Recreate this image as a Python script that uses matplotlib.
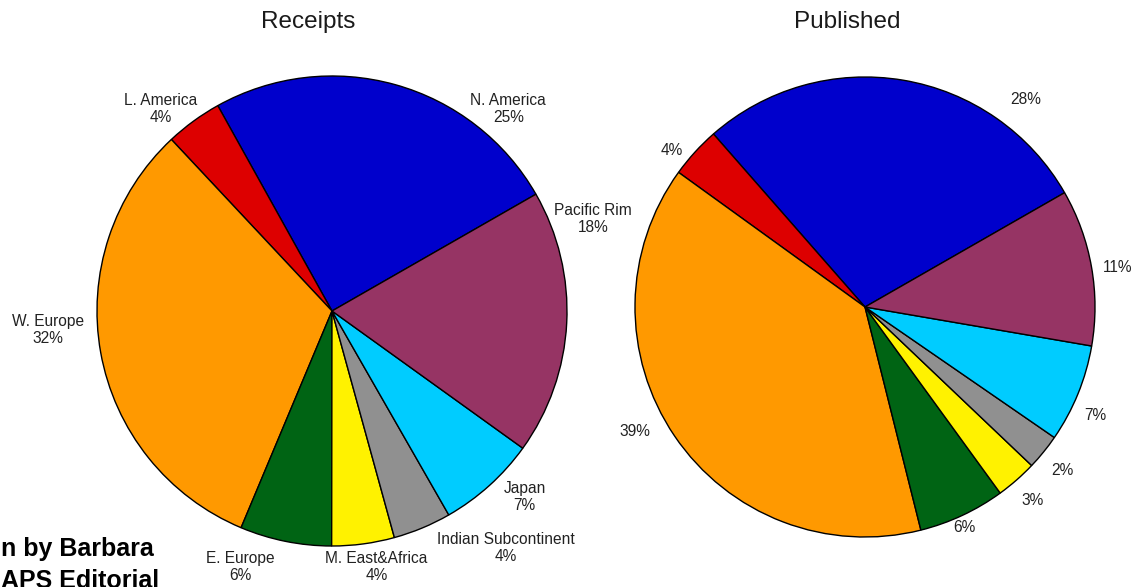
import matplotlib.pyplot as plt

plt.rcParams["font.family"] = ["Liberation Sans", "DejaVu Sans"]

regions = ["N. America", "L. America", "W. Europe", "E. Europe",
           "M. East&Africa", "Indian Subcontinent", "Japan", "Pacific Rim"]
receipts = [24.8, 3.9, 31.7, 6.3, 4.3, 4.0, 6.8, 18.2]
published = [28.2, 3.6, 38.9, 6.1, 2.9, 2.5, 6.9, 11.0]
receipts_labels = ["25%", "4%", "32%", "6%", "4%", "4%", "7%", "18%"]
published_labels = ["28%", "4%", "39%", "6%", "3%", "2%", "7%", "11%"]
colors = ["#0000cc", "#dd0000", "#ff9900", "#006414",
          "#fff200", "#909090", "#00ccff", "#963464"]

# label centres, in units of pie radius relative to the pie centre
receipts_pos = [(0.75, 0.86), (-0.73, 0.86), (-1.21, -0.08), (-0.39, -1.09),
                (0.19, -1.09), (0.74, -1.01), (0.82, -0.79), (1.11, 0.39)]
published_pos = [(0.70, 0.90), (-0.84, 0.68), (-1.0, -0.54), (0.43, -0.96),
                 (0.73, -0.84), (0.86, -0.71), (1.00, -0.47), (1.10, 0.17)]

W, H = 1135, 587
fig = plt.figure(figsize=(W / 100, H / 100), dpi=100)


def draw_pie(cx, cy, r, values, texts, positions, title, title_xy):
    ax = fig.add_axes([(cx - r) / W, (H - cy - r) / H, 2 * r / W, 2 * r / H])
    ax.pie(values, colors=colors, startangle=29.8, counterclock=True,
           wedgeprops=dict(edgecolor="black", linewidth=1.0))
    ax.set_xlim(-1, 1)
    ax.set_ylim(-1, 1)
    ax.set_aspect("equal")
    ax.axis("off")
    for txt, (x, y) in zip(texts, positions):
        ax.text(x, y, txt, ha="center", va="center", fontsize=11.2,
                color="#222222", linespacing=1.15, clip_on=False)
    ax.text(title_xy[0], title_xy[1], title, ha="center", va="center",
            fontsize=17.5, color="#1a1a1a", clip_on=False)
    return ax


draw_pie(332, 311, 235, receipts,
         [f"{n}\n{p}" for n, p in zip(regions, receipts_labels)],
         receipts_pos, "Receipts", (-0.1, 1.23))
draw_pie(865, 307, 230, published, published_labels,
         published_pos, "Published", (-0.075, 1.24))

fig.text(1 / W, (H - 549) / H, "n by Barbara", ha="left", va="center",
         fontsize=18, fontweight="bold", color="black")
fig.text(1 / W, (H - 581) / H, "APS Editorial", ha="left", va="center",
         fontsize=18, fontweight="bold", color="black")

fig.savefig("out.png", dpi=100)
